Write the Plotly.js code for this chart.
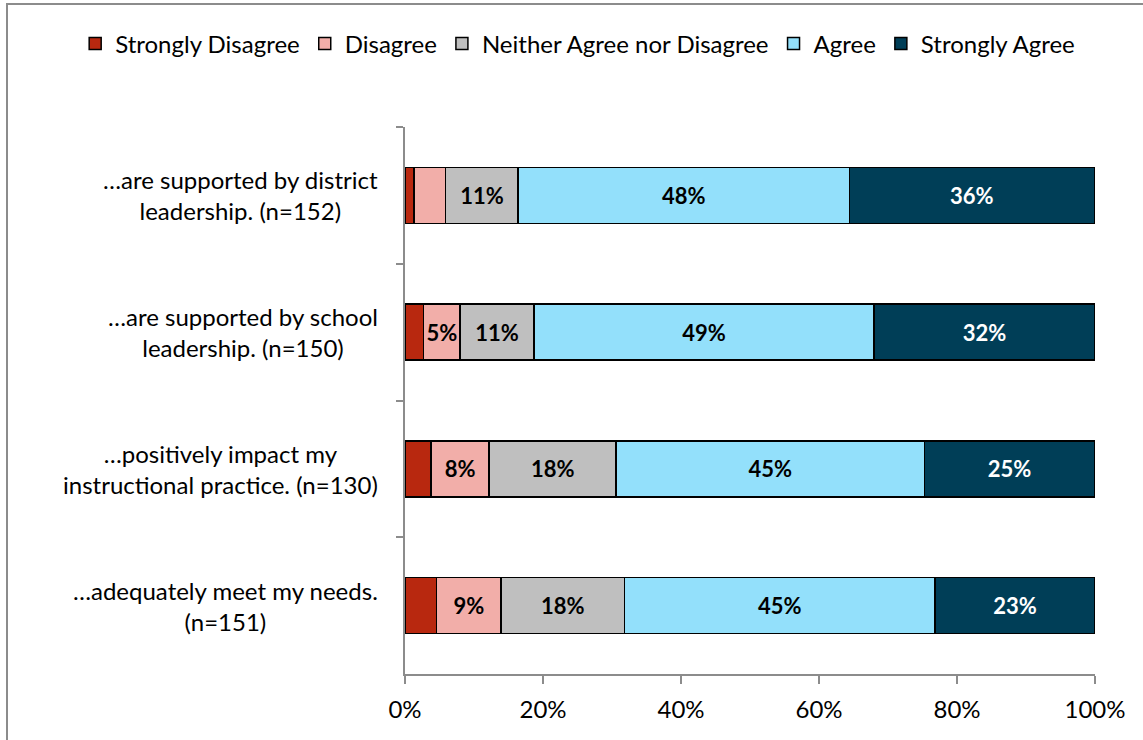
<!DOCTYPE html>
<html>
<head>
<meta charset="utf-8">
<script src="https://cdn.plot.ly/plotly-3.0.1.min.js"></script>
<style>
  html, body { margin: 0; padding: 0; background: #fff; overflow: hidden; }
  #chart { position: absolute; left: 0; top: 0; width: 1143px; height: 740px; }
  #frame { position: absolute; left: 6px; top: 3px; width: 1160px; height: 760px; border: 2px solid #8c8c8c; pointer-events: none; }
</style>
</head>
<body>
<div id="chart"></div>
<div id="frame"></div>
<script>
// Categories (top to bottom)
const categories = ["district", "school", "practice", "needs"];
const categoryLabels = [
  "…are supported by district<br>leadership. (n=152)",
  "…are supported by school<br>leadership. (n=150)",
  "…positively impact my<br>instructional practice. (n=130)",
  "…adequately meet my needs.<br>(n=151)"
];
// Series values (percent of respondents)
const seriesNames = ["Strongly Disagree", "Disagree", "Neither Agree nor Disagree", "Agree", "Strongly Agree"];
const stronglyDisagree = [1.3, 2.7, 3.8, 4.6];
const disagree = [4.6, 5.3, 8.4, 9.3];
const neither = [10.5, 10.7, 18.4, 17.9];
const agree = [48.0, 49.3, 44.7, 45.0];
const stronglyAgree = [35.5, 32.0, 24.6, 23.2];
const xTickValues = [0, 20, 40, 60, 80, 100];

const seriesValues = [stronglyDisagree, disagree, neither, agree, stronglyAgree];
const colors = ["#B8280F", "#F2AEA9", "#BFBFBF", "#93E0FB", "#003E57"];
const textColors = ["#000", "#000", "#000", "#000", "#fff"];
const FONT = "Lato, 'Open Sans', sans-serif";
const FS = 24;

const traces = seriesNames.map((name, i) => ({
  type: "bar",
  orientation: "h",
  name: name,
  y: categories,
  x: seriesValues[i],
  text: seriesValues[i].map(v => v >= 5 ? Math.round(v) + "%" : ""),
  textposition: "inside",
  insidetextanchor: "middle",
  textangle: 0,
  constraintext: "none",
  textfont: { family: FONT, size: 22, color: textColors[i], weight: "bold" },
  marker: { color: colors[i], line: { color: "#000", width: 1.5 } },
  hoverinfo: "skip"
}));

const annotations = categories.map((c, i) => ({
  xref: "paper", yref: "y",
  x: -0.036, y: c,
  xanchor: "right", yanchor: "middle",
  align: "center",
  showarrow: false,
  text: categoryLabels[i],
  font: { family: FONT, size: FS, color: "#000" }
}));

const layout = {
  width: 1143, height: 740,
  margin: { l: 405, r: 48, t: 127, b: 66 },
  paper_bgcolor: "#fff",
  plot_bgcolor: "#fff",
  barmode: "stack",
  bargap: 0.59,
  showlegend: true,
  legend: {
    orientation: "h",
    xref: "paper", yref: "paper",
    x: -0.478, xanchor: "left",
    y: 1 + (127 - 44) / 547, yanchor: "middle",
    font: { family: FONT, size: 24, color: "#000" },
    traceorder: "normal",
    itemclick: false
  },
  xaxis: {
    range: [0, 100],
    tickvals: xTickValues,
    ticktext: xTickValues.map(v => v + "%"),
    ticks: "outside", ticklen: 8, tickwidth: 2, tickcolor: "#8c8c8c",
    showline: true, linecolor: "#8c8c8c", linewidth: 2,
    showgrid: false, zeroline: false,
    ticklabelstandoff: 5,
    tickfont: { family: FONT, size: FS, color: "#000" },
    fixedrange: true
  },
  yaxis: {
    type: "category",
    categoryorder: "array",
    categoryarray: categories,
    autorange: "reversed",
    showticklabels: false,
    ticks: "outside", ticklen: 7, tickwidth: 2, tickcolor: "#8c8c8c",
    tickson: "boundaries",
    showline: true, linecolor: "#8c8c8c", linewidth: 2,
    showgrid: false, zeroline: false,
    fixedrange: true
  },
  annotations: annotations,
  font: { family: FONT }
};

Plotly.newPlot("chart", traces, layout, { displayModeBar: false, staticPlot: true });
</script>
</body>
</html>
